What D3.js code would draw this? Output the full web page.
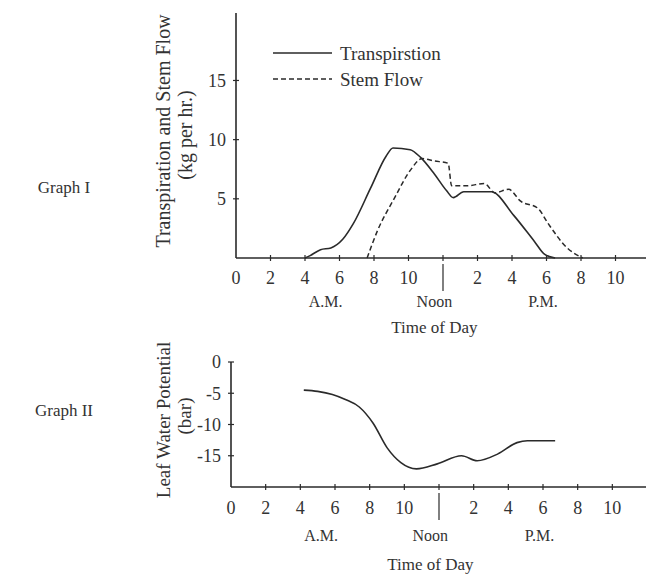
<!DOCTYPE html>
<html><head><meta charset="utf-8">
<script src="https://cdn.jsdelivr.net/npm/d3@7"></script>
<style>
html,body{margin:0;padding:0;background:#fff;}
svg text{font-family:"Liberation Serif","DejaVu Serif",serif;fill:#333;}
</style></head>
<body>
<svg id="c" width="646" height="579"></svg>
<script>
// Graph I data
const transHours = [4, 4.3, 4.9, 5.5, 6.2, 6.8, 7.8, 8.7, 9.1, 10.1, 10.7, 11.5, 12.2, 12.6, 13.2, 14.8, 16.1, 17.3, 17.9, 18.5];
const transValues = [0, 0.2, 0.7, 0.85, 1.6, 2.9, 5.9, 8.6, 9.3, 9.15, 8.5, 7.1, 5.7, 5.1, 5.6, 5.6, 3.6, 1.4, 0.3, 0];
const stemHours = [7.6, 8.2, 9.2, 10.1, 10.8, 11.5, 12.3, 12.5, 13.4, 14.4, 15.0, 15.8, 16.5, 17.5, 18.1, 19.2, 20.1];
const stemValues = [0, 2.3, 5.1, 7.4, 8.4, 8.2, 8.0, 6.1, 6.1, 6.3, 5.5, 5.8, 4.8, 4.2, 2.9, 0.85, 0];
// Graph II data
const leafHours = [4.2, 5.0, 5.85, 6.6, 7.4, 8.2, 9.0, 9.8, 10.7, 11.9, 13.3, 14.2, 15.4, 16.5, 17.1, 18.7];
const leafValues = [-4.5, -4.7, -5.2, -6.0, -7.2, -9.8, -13.7, -16.1, -17.1, -16.3, -15.0, -15.8, -14.7, -12.9, -12.6, -12.6];
// ticks
const hourTicks = [0, 2, 4, 6, 8, 10, 12, 14, 16, 18, 20, 22];
const hourLabels = ["0", "2", "4", "6", "8", "10", "", "2", "4", "6", "8", "10"];
const periodLabels = ["A.M.", "Noon", "P.M."];
const periodHours = [5.2, 11.5, 17.8];
const yTicks1 = [5, 10, 15];
const yTicks2 = [0, -5, -10, -15];

const svg = d3.select("#c");
const ink = "#2a2a2a";

function drawPanel(o) {
  const g = svg.append("g");
  const x = d3.scaleLinear().domain([0, 24]).range(o.xr);
  const y = d3.scaleLinear().domain(o.yd).range(o.yr);
  const base = o.base;
  // y axis
  g.append("line").attr("x1", o.xr[0]).attr("x2", o.xr[0]).attr("y1", o.top).attr("y2", base)
    .attr("stroke", ink).attr("stroke-width", 1.6);
  // x axis
  g.append("line").attr("x1", o.xr[0]).attr("x2", 646).attr("y1", base).attr("y2", base)
    .attr("stroke", ink).attr("stroke-width", 1.6);
  // y ticks
  o.yt.forEach(v => {
    g.append("line").attr("x1", o.xr[0] - 3).attr("x2", o.xr[0] + 3).attr("y1", y(v)).attr("y2", y(v))
      .attr("stroke", ink).attr("stroke-width", 1.2);
    g.append("text").attr("x", o.xr[0] - 10).attr("y", y(v)).attr("dy", "0.35em")
      .attr("text-anchor", "end").attr("font-size", 18).text(String(v));
  });
  // x ticks
  hourTicks.forEach((h, i) => {
    if (h > 0) g.append("line").attr("x1", x(h)).attr("x2", x(h)).attr("y1", base - 3).attr("y2", base + 3)
      .attr("stroke", ink).attr("stroke-width", 1.2);
    if (hourLabels[i]) g.append("text").attr("x", x(h)).attr("y", base + o.off[0]).attr("dy", "0.35em")
      .attr("text-anchor", "middle").attr("font-size", 18).text(hourLabels[i]);
  });
  // noon separator
  g.append("line").attr("x1", x(12)).attr("x2", x(12)).attr("y1", base + 6).attr("y2", base + 33)
    .attr("stroke", ink).attr("stroke-width", 1.2);
  periodLabels.forEach((t, i) => {
    g.append("text").attr("x", x(periodHours[i])).attr("y", base + o.off[1]).attr("dy", "0.35em")
      .attr("text-anchor", "middle").attr("font-size", 16).text(t);
  });
  g.append("text").attr("x", x(11.5)).attr("y", base + o.off[2]).attr("dy", "0.35em")
    .attr("text-anchor", "middle").attr("font-size", 17).text("Time of Day");
  // y labels
  o.ylab.forEach((t, i) => {
    g.append("text").attr("transform", `translate(${o.ylx[i]},${o.yly[i]}) rotate(-90)`)
      .attr("text-anchor", "middle").attr("dy", "0.35em").attr("font-size", o.yfs).text(t);
  });
  g.append("text").attr("x", 64).attr("y", o.gy).attr("dy", "0.35em").attr("text-anchor", "middle")
    .attr("font-size", 17).text(o.title);
  return {g, x, y};
}

const p1 = drawPanel({xr: [236, 650], yd: [0, 20.7], yr: [258, 13], base: 258, top: 13, yt: yTicks1,
  off: [20, 43, 69], yfs: 20,
  ylab: ["Transpiration and Stem Flow", "(kg per hr.)"], ylx: [163, 185], yly: [131, 135], gy: 187, title: "Graph I"});
const p2 = drawPanel({xr: [231, 647], yd: [0, -20], yr: [362, 487], base: 487, top: 362, yt: yTicks2,
  off: [21, 48, 77], yfs: 19,
  ylab: ["Leaf Water Potential", "(bar)"], ylx: [163, 184], yly: [420, 416], gy: 410, title: "Graph II"});

const line1 = d3.line().x(d => p1.x(d[0])).y(d => p1.y(d[1])).curve(d3.curveMonotoneX);
p1.g.append("path").datum(d3.zip(transHours, transValues)).attr("d", line1)
  .attr("fill", "none").attr("stroke", ink).attr("stroke-width", 1.6);
p1.g.append("path").datum(d3.zip(stemHours, stemValues)).attr("d", line1)
  .attr("fill", "none").attr("stroke", ink).attr("stroke-width", 1.5).attr("stroke-dasharray", "5,3");

const line2 = d3.line().x(d => p2.x(d[0])).y(d => p2.y(d[1])).curve(d3.curveMonotoneX);
p2.g.append("path").datum(d3.zip(leafHours, leafValues)).attr("d", line2)
  .attr("fill", "none").attr("stroke", ink).attr("stroke-width", 1.6);

// legend
const leg = svg.append("g");
leg.append("line").attr("x1", 273).attr("x2", 332).attr("y1", 53).attr("y2", 53).attr("stroke", ink).attr("stroke-width", 1.6);
leg.append("text").attr("x", 340).attr("y", 53).attr("dy", "0.35em").attr("font-size", 19).text("Transpirstion");
leg.append("line").attr("x1", 273).attr("x2", 332).attr("y1", 79).attr("y2", 79).attr("stroke", ink).attr("stroke-width", 1.5).attr("stroke-dasharray", "5,3");
leg.append("text").attr("x", 340).attr("y", 79).attr("dy", "0.35em").attr("font-size", 19).text("Stem Flow");
</script>
</body></html>
